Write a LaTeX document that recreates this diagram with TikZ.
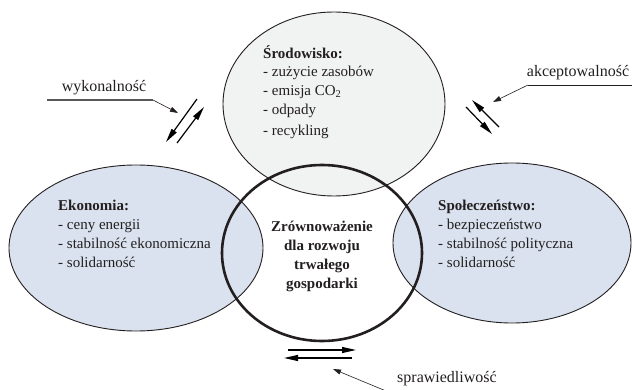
\documentclass[tikz,border=0pt]{standalone}
\usepackage{fontspec}
\setmainfont{Liberation Serif}
\usetikzlibrary{arrows.meta,shapes.geometric}
\definecolor{ink}{HTML}{231F20}
\definecolor{bluefill}{HTML}{D9E2EE}
\definecolor{greyfill}{HTML}{F1F2F2}
\begin{document}
\begin{tikzpicture}[x=1pt,y=-1pt,
  blob/.style={ellipse,draw=ink,line width=0.9pt,inner sep=0pt,outer sep=0pt},
  bodytext/.style={font=\fontsize{15}{18.8}\selectfont,text=ink,align=left,inner sep=0pt,anchor=north west},
  labeltext/.style={font=\fontsize{16}{19}\selectfont,text=ink,inner sep=0pt},
  thinarrow/.style={draw=ink,line width=0.6pt,-{Triangle[length=8pt,width=5pt]}},
  flowarrow/.style={draw=black,line width=1.2pt,-{Triangle[length=14pt,width=6pt]}},
  underline/.style={draw=ink!75,line width=1.3pt}]
\useasboundingbox (0,0) rectangle (632,390);
\fill[white] (0,0) rectangle (632,390);
% ellipses
\node[blob,fill=bluefill,minimum width=254pt,minimum height=166pt] (eko) at (136,248) {};
\node[blob,fill=bluefill,minimum width=238pt,minimum height=160pt] (spo) at (512,243) {};
\node[blob,fill=greyfill,minimum width=222pt,minimum height=184pt] (sro) at (334,104) {};
\node[ellipse,draw=ink,line width=2.6pt,inner sep=0pt,minimum width=200pt,minimum height=176pt] (core) at (322,253) {};
% texts
\node[bodytext] (tsro) at (263,45) {\textbf{Środowisko:}\\- zużycie zasobów\\- emisja CO\textsubscript{2}\\- odpady\\[2pt]- recykling};
\node[bodytext] (teko) at (58,200) {\textbf{Ekonomia:}\\- ceny energii\\- stabilność ekonomiczna\\- solidarność};
\node[bodytext] (tspo) at (438,200) {\textbf{Społeczeństwo:}\\- bezpieczeństwo\\- stabilność polityczna\\- solidarność};
\node[font=\fontsize{15}{19}\selectfont\bfseries,text=ink,align=center,inner sep=0pt] (tcore) at (322,256) {Zrównoważenie\\dla rozwoju\\trwałego\\gospodarki};
% labels
\node[labeltext] (lwyk) at (104,88) {wykonalność};
\node[labeltext] (lakc) at (578,73) {akceptowalność};
\node[labeltext] (lspr) at (447,379) {sprawiedliwość};
% label pointers
\coordinate (wykA) at (47,100);
\coordinate (wykB) at (153,100);
\coordinate (wykT) at (178,113);
\draw[underline] (wykA) -- (wykB);
\draw[thinarrow] (wykB) -- (wykT);
\coordinate (akcA) at (632,85);
\coordinate (akcB) at (528,85);
\coordinate (akcT) at (493,102);
\draw[draw=ink,line width=0.9pt] (akcA) -- (akcB);
\draw[thinarrow] (akcB) -- (akcT);
\coordinate (sprB) at (386,391);
\coordinate (sprT) at (333,369);
\draw[thinarrow] (sprB) -- (sprT);
% flow arrow pairs
\coordinate (w1s) at (197,99);
\coordinate (w1e) at (166,142);
\coordinate (w2s) at (177,143);
\coordinate (w2e) at (204,107);
\draw[flowarrow] (w1s) -- (w1e);
\draw[flowarrow] (w2s) -- (w2e);
\coordinate (a1s) at (466,107);
\coordinate (a1e) at (492,134);
\coordinate (a2s) at (499,127);
\coordinate (a2e) at (472,100);
\draw[flowarrow] (a1s) -- (a1e);
\draw[flowarrow] (a2s) -- (a2e);
\coordinate (s1s) at (288,350);
\coordinate (s1e) at (356,350);
\coordinate (s2s) at (352,358);
\coordinate (s2e) at (284,358);
\draw[flowarrow] (s1s) -- (s1e);
\draw[flowarrow] (s2s) -- (s2e);
\end{tikzpicture}
\end{document}
